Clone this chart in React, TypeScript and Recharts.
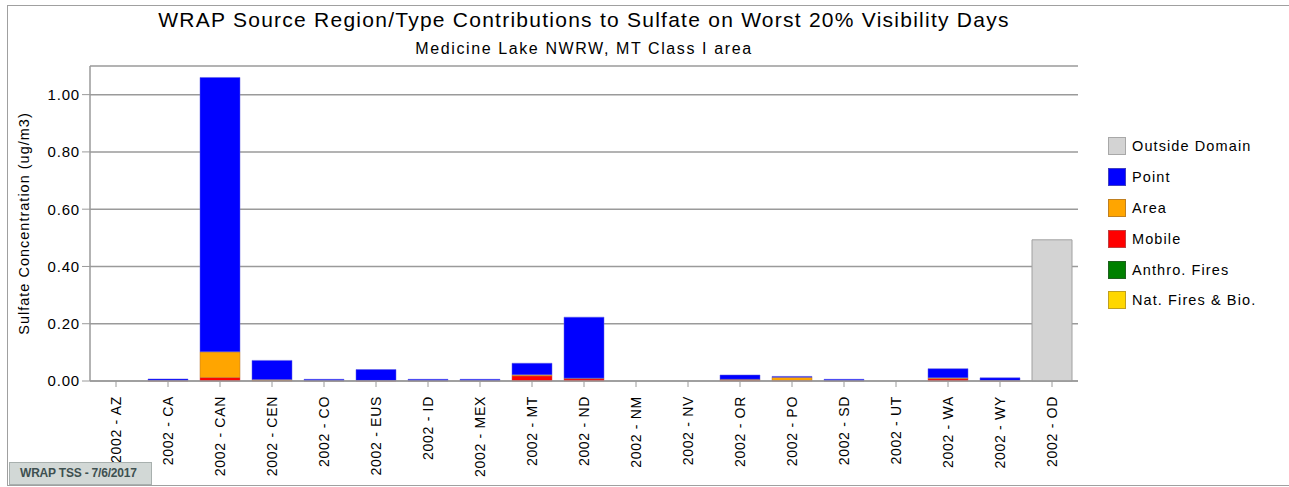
import { BarChart, Bar, XAxis, YAxis, CartesianGrid } from 'recharts';

// source regions along the x axis
const regions = ['AZ', 'CA', 'CAN', 'CEN', 'CO', 'EUS', 'ID', 'MEX', 'MT', 'ND', 'NM', 'NV', 'OR', 'PO', 'SD', 'UT', 'WA', 'WY', 'OD'];

// sulfate (ug/m3) by source type
const natFires = [0, 0, 0, 0, 0, 0, 0, 0, 0, 0, 0, 0, 0, 0, 0, 0, 0, 0, 0];
const anthroFires = [0, 0, 0, 0, 0, 0, 0, 0, 0, 0, 0, 0, 0, 0, 0, 0, 0, 0, 0];
const mobile = [0, 0.001, 0.012, 0.002, 0, 0.001, 0, 0, 0.018, 0.008, 0, 0, 0.003, 0.002, 0, 0, 0.008, 0.001, 0];
const area = [0, 0.001, 0.09, 0.003, 0.001, 0.001, 0.001, 0.001, 0.004, 0.002, 0, 0, 0.003, 0.011, 0.001, 0, 0.003, 0.001, 0];
const point = [0, 0.005, 0.958, 0.067, 0.005, 0.038, 0.005, 0.005, 0.04, 0.213, 0, 0, 0.015, 0.003, 0.005, 0, 0.032, 0.009, 0];
const outsideDomain = [0, 0, 0, 0, 0, 0, 0, 0, 0, 0, 0, 0, 0, 0, 0, 0, 0, 0, 0.493];

const yTicks = [0, 0.2, 0.4, 0.6, 0.8, 1.0];

const data = regions.map((r, i) => ({
  name: '2002 - ' + r,
  nat: natFires[i],
  anthro: anthroFires[i],
  mobile: mobile[i],
  area: area[i],
  point: point[i],
  od: outsideDomain[i],
}));

const legendItems = [
  { label: 'Outside Domain', color: '#d3d3d3', border: '#a8a8a8' },
  { label: 'Point', color: '#0000ff', border: '#4040c0' },
  { label: 'Area', color: '#ffa500', border: '#c08020' },
  { label: 'Mobile', color: '#ff0000', border: '#c04040' },
  { label: 'Anthro. Fires', color: '#008000', border: '#206020' },
  { label: 'Nat. Fires & Bio.', color: '#ffd700', border: '#c0a020' },
];

const font = '"Liberation Sans", Arial, sans-serif';

function XTick(props: any) {
  const { x, y, payload } = props;
  return (
    <g transform={`translate(${x},${y + 7})`}>
      <text transform="rotate(-90)" textAnchor="end" dy={5} fontSize={14} letterSpacing={0.7} fontFamily={font} fill="#000">
        {payload.value}
      </text>
    </g>
  );
}

// legend sits outside the chart so it doesn't eat plot space
function LegendBox() {
  return (
    <div style={{ position: 'absolute', left: 1108, top: 131, fontFamily: font, fontSize: 14.5, letterSpacing: 1.1, color: '#000' }}>
      {legendItems.map(it => (
        <div key={it.label} style={{ display: 'flex', alignItems: 'center', height: 30.8 }}>
          <span
            style={{
              width: 18,
              height: 18,
              background: it.color,
              border: `1px solid ${it.border}`,
              marginRight: 6,
              boxSizing: 'border-box',
            }}
          />
          <span>{it.label}</span>
        </div>
      ))}
    </div>
  );
}

export default function App() {
  return (
    <div style={{ position: 'absolute', left: 0, top: 0, width: 1289, height: 487, background: '#fff', overflow: 'hidden' }}>
      {/* outer frame */}
      <div
        style={{
          position: 'absolute',
          left: 7,
          top: 5,
          width: 1300,
          height: 481,
          border: '1px solid #a0a0a0',
          boxSizing: 'border-box',
        }}
      />
      <div
        style={{
          position: 'absolute',
          left: 0,
          width: 1168,
          top: 8,
          textAlign: 'center',
          fontFamily: font,
          fontSize: 21,
          letterSpacing: 1.25,
          color: '#000',
        }}
      >
        WRAP Source Region/Type Contributions to Sulfate on Worst 20% Visibility Days
      </div>
      <div
        style={{
          position: 'absolute',
          left: 0,
          width: 1168,
          top: 40,
          textAlign: 'center',
          fontFamily: font,
          fontSize: 16,
          letterSpacing: 1.6,
          color: '#000',
        }}
      >
        Medicine Lake NWRW, MT Class I area
      </div>
      <BarChart
        width={1289}
        height={487}
        data={data}
        barSize={40}
        margin={{ top: 66, right: 211, left: 0, bottom: 0 }}
        style={{ position: 'absolute', left: 0, top: 0 }}
      >
        <CartesianGrid horizontal vertical={false} stroke="#9a9a9a" strokeWidth={1.5} />
        <XAxis
          dataKey="name"
          interval={0}
          tick={<XTick />}
          tickLine={{ stroke: '#9a9a9a' }}
          tickSize={6}
          axisLine={{ stroke: '#9a9a9a', strokeWidth: 1.5 }}
          height={106}
        />
        <XAxis xAxisId="top" orientation="top" dataKey="name" tick={false} tickLine={false} height={0} axisLine={{ stroke: '#9a9a9a', strokeWidth: 1.5 }} />
        <YAxis
          width={90}
          domain={[0, 1.1]}
          ticks={yTicks}
          tickFormatter={(v: number) => v.toFixed(2)}
          tick={{ fontSize: 15, fontFamily: font, fill: '#000', letterSpacing: 0.8 }}
          tickLine={{ stroke: '#9a9a9a' }}
          tickSize={8}
          axisLine={{ stroke: '#9a9a9a', strokeWidth: 1.5 }}
          label={{
            value: 'Sulfate Concentration (ug/m3)',
            angle: -90,
            position: 'insideLeft',
            offset: 24,
            style: { textAnchor: 'middle', fontSize: 14.5, letterSpacing: 1.0, fontFamily: font, fill: '#000' },
          }}
        />
        <YAxis yAxisId="right" orientation="right" domain={[0, 1.1]} tick={false} tickLine={false} width={0} axisLine={{ stroke: '#9a9a9a', strokeWidth: 1.5 }} />
        <Bar dataKey="nat" stackId="s" fill="#ffd700" isAnimationActive={false} />
        <Bar dataKey="anthro" stackId="s" fill="#008000" isAnimationActive={false} />
        <Bar dataKey="mobile" stackId="s" fill="#ff0000" stroke="#d05050" strokeWidth={0.5} isAnimationActive={false} />
        <Bar dataKey="area" stackId="s" fill="#ffa500" stroke="#b07030" strokeWidth={0.5} isAnimationActive={false} />
        <Bar dataKey="point" stackId="s" fill="#0000ff" stroke="#6060e0" strokeWidth={0.5} isAnimationActive={false} />
        <Bar dataKey="od" stackId="s" fill="#d3d3d3" stroke="#a0a0a0" strokeWidth={1} isAnimationActive={false} />
      </BarChart>
      <LegendBox />
      <div
        style={{
          position: 'absolute',
          left: 9,
          top: 462,
          width: 143,
          height: 23,
          background: '#d2d8d6',
          border: '1px solid #a8b0ae',
          boxSizing: 'border-box',
          fontFamily: font,
          fontSize: 12,
          fontWeight: 'bold',
          color: '#3e5050',
          lineHeight: '21px',
          paddingLeft: 10,
          letterSpacing: -0.2,
        }}
      >
        WRAP TSS - 7/6/2017
      </div>
    </div>
  );
}
